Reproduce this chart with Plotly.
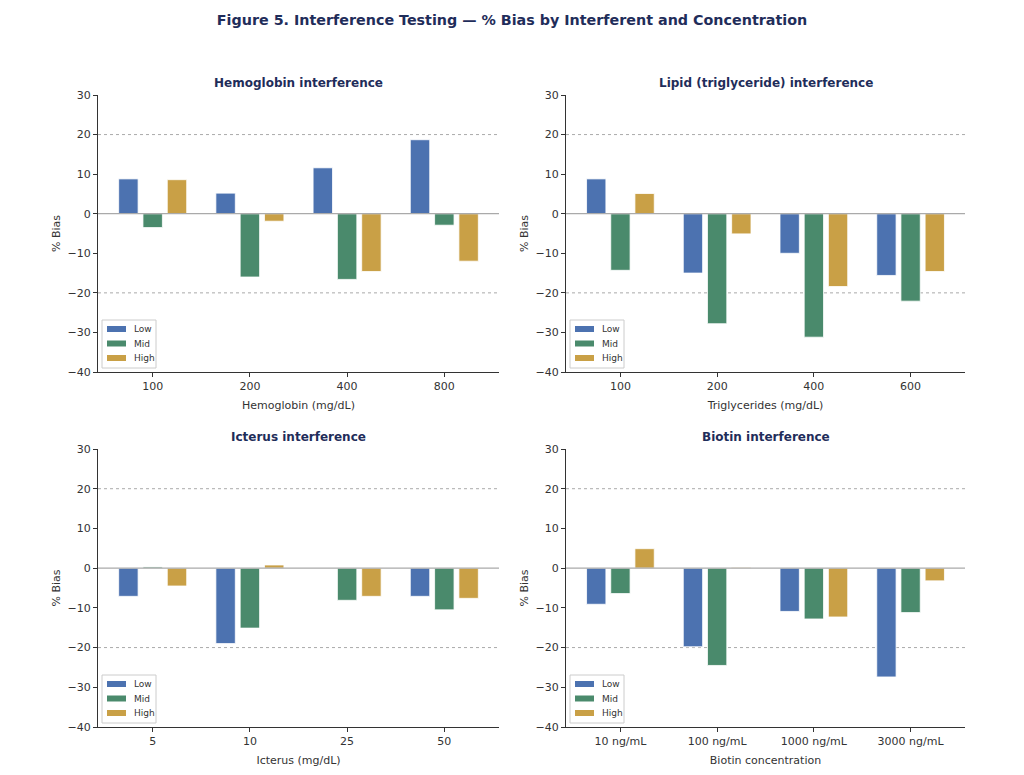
import plotly.graph_objects as go

levels = ["Low", "Mid", "High"]
colors = ["#4C72B0", "#4A8A6C", "#C9A046"]

hb_cats = ["100", "200", "400", "800"]
hb_low = [8.8, 5.2, 11.6, 18.7]
hb_mid = [-3.5, -16.0, -16.6, -2.9]
hb_high = [8.6, -1.9, -14.6, -12.0]

lip_cats = ["100", "200", "400", "600"]
lip_low = [8.8, -15.0, -10.0, -15.6]
lip_mid = [-14.3, -27.8, -31.2, -22.1]
lip_high = [5.1, -5.1, -18.4, -14.6]

ict_cats = ["5", "10", "25", "50"]
ict_low = [-7.1, -19.0, 0.0, -7.1]
ict_mid = [0.3, -15.1, -8.1, -10.5]
ict_high = [-4.5, 0.8, -7.1, -7.6]

bio_cats = ["10 ng/mL", "100 ng/mL", "1000 ng/mL", "3000 ng/mL"]
bio_low = [-9.1, -19.8, -10.9, -27.4]
bio_mid = [-6.4, -24.5, -12.8, -11.2]
bio_high = [4.9, 0.2, -12.3, -3.2]

panels = [
    ("Hemoglobin interference", "Hemoglobin (mg/dL)", hb_cats, [hb_low, hb_mid, hb_high]),
    ("Lipid (triglyceride) interference", "Triglycerides (mg/dL)", lip_cats, [lip_low, lip_mid, lip_high]),
    ("Icterus interference", "Icterus (mg/dL)", ict_cats, [ict_low, ict_mid, ict_high]),
    ("Biotin interference", "Biotin concentration", bio_cats, [bio_low, bio_mid, bio_high]),
]

W, H = 1024, 775
xdoms = [[98 / W, 499 / W], [566 / W, 965 / W]]
ydoms = [[1 - 372 / H, 1 - 95 / H], [1 - 727 / H, 1 - 449 / H]]

navy = "#1F2D5A"
axcol = "#333333"
font = "DejaVu Sans"

fig = go.Figure()
layout = dict(
    width=W, height=H,
    margin=dict(l=0, r=0, t=0, b=0, autoexpand=False),
    paper_bgcolor="white", plot_bgcolor="white",
    font=dict(family=font, size=11, color="#333333"),
    barmode="group", bargap=0.25, bargroupgap=0.2,
    showlegend=False,
    annotations=[], shapes=[],
)

for i, (title, xlabel, cats, series) in enumerate(panels):
    r, c = divmod(i, 2)
    n = "" if i == 0 else str(i + 1)
    xa, ya = "x" + n, "y" + n
    for lv, col, vals in zip(levels, colors, series):
        fig.add_trace(go.Bar(
            x=cats, y=vals, name=lv, marker=dict(color=col, line=dict(color="white", width=0.8)),
            xaxis=xa, yaxis=ya, showlegend=False,
        ))
    layout["xaxis" + n] = dict(
        domain=xdoms[c], anchor=ya, type="category", range=[-0.5625, 3.5625],
        showgrid=False, zeroline=False, showline=True, linecolor=axcol, linewidth=1.2,
        ticks="outside", ticklen=4, tickcolor=axcol, mirror=False, automargin=False,
        title=dict(text=xlabel, font=dict(size=11, color="#333333"), standoff=9),
        tickfont=dict(size=11, color="#333333"),
    )
    layout["yaxis" + n] = dict(
        domain=ydoms[r], anchor=xa, range=[-40, 30], tickvals=[-40, -30, -20, -10, 0, 10, 20, 30],
        showgrid=False, zeroline=False, showline=True, linecolor=axcol, linewidth=1.2,
        ticks="outside", ticklen=4, tickcolor=axcol, automargin=False,
        title=dict(text="% Bias", font=dict(size=11, color="#333333"), standoff=4),
        tickfont=dict(size=11, color="#333333"),
    )
    # legend box (drawn in paper coordinates)
    x0 = xdoms[c][0] + 4 / W
    ybot = ydoms[r][0] + 4 / H
    layout["shapes"].append(dict(
        type="rect", xref="paper", yref="paper", x0=x0, x1=x0 + 54 / W, y0=ybot, y1=ybot + 48 / H,
        line=dict(color="#CCCCCC", width=1), fillcolor="rgba(255,255,255,0.85)", layer="above",
    ))
    for k, (lv, col) in enumerate(zip(levels, colors)):
        yc = ybot + (39 - 14.5 * k) / H
        layout["shapes"].append(dict(
            type="rect", xref="paper", yref="paper", x0=x0 + 5 / W, x1=x0 + 24 / W,
            y0=yc - 3 / H, y1=yc + 3 / H, line=dict(width=0), fillcolor=col, layer="above",
        ))
        layout["annotations"].append(dict(
            text=lv, x=x0 + 30 / W, y=yc, xref="paper", yref="paper", xanchor="left", yanchor="middle",
            showarrow=False, font=dict(size=9, color="#333333", family=font),
        ))
    layout["annotations"].append(dict(
        text="<b>" + title + "</b>", x=(xdoms[c][0] + xdoms[c][1]) / 2, y=ydoms[r][1] + 3 / H,
        xref="paper", yref="paper", xanchor="center", yanchor="bottom", showarrow=False,
        font=dict(size=12, color=navy, family=font),
    ))
    for yv, dash in [(0, "solid"), (20, "dot"), (-20, "dot")]:
        layout["shapes"].append(dict(
            type="line", xref=xa + " domain", yref=ya, x0=0, x1=1, y0=yv, y1=yv,
            line=dict(color="#AAAAAA", width=1.2 if yv == 0 else 1, dash=dash),
            layer="above" if yv == 0 else "below",
        ))

layout["title"] = dict(
    text="<b>Figure 5. Interference Testing — % Bias by Interferent and Concentration</b>",
    x=0.5, xanchor="center", y=1 - 20 / H, yanchor="middle",
    font=dict(size=14.3, color=navy, family=font),
)

fig.update_layout(**layout)
fig.write_html("out.html")
